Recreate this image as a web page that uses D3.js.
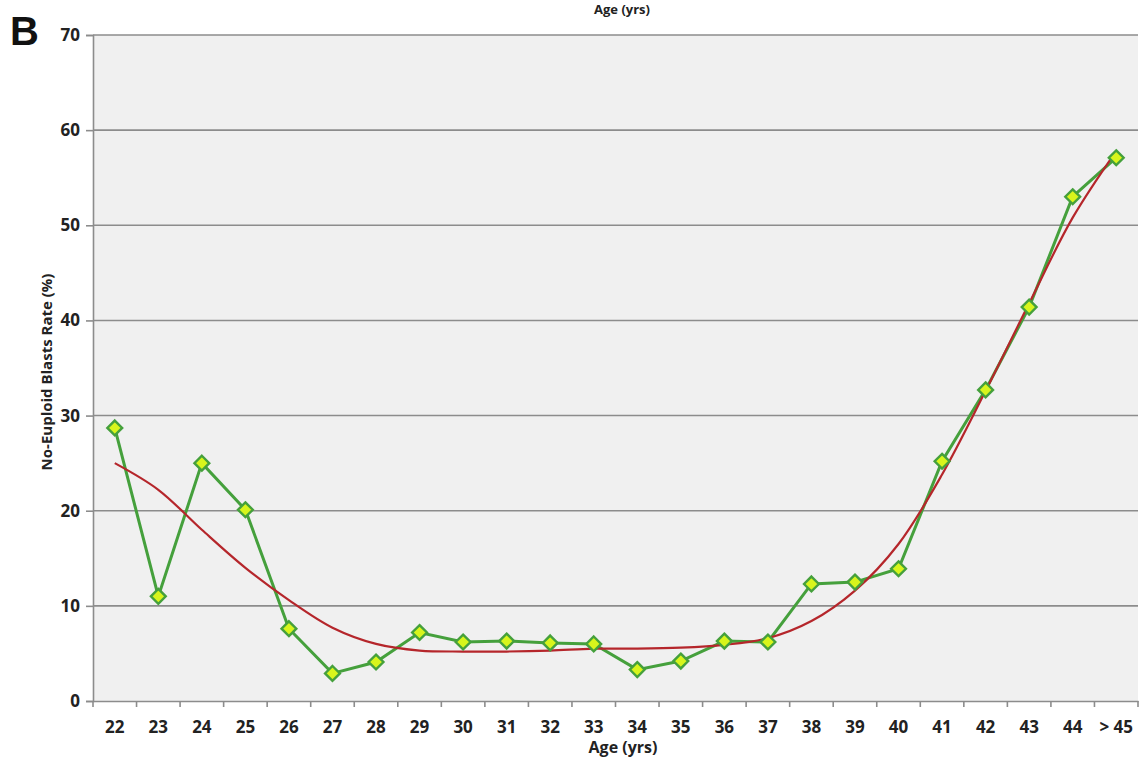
<!DOCTYPE html>
<html><head><meta charset="utf-8">
<script src="https://cdn.jsdelivr.net/npm/d3@7"></script>
<style>body{margin:0;background:#fff;} svg{display:block;}</style>
</head><body>
<svg id="c" width="1144" height="767"></svg>
<script>
const categories = ["22","23","24","25","26","27","28","29","30","31","32","33","34","35","36","37","38","39","40","41","42","43","44","> 45"];
const observed = [28.7,11.0,25.0,20.1,7.6,2.9,4.1,7.2,6.2,6.3,6.1,6.0,3.3,4.2,6.3,6.2,12.3,12.5,13.9,25.2,32.7,41.4,53.0,57.1];
const trend = [25.0,22.2,18.0,14.0,10.6,7.7,6.0,5.3,5.2,5.2,5.3,5.5,5.5,5.6,5.9,6.6,8.4,11.6,16.5,23.8,32.6,41.8,50.8,57.8];
const yTicks = [0,10,20,30,40,50,60,70];

(function(){
const svg = d3.select("#c");
const pL = 93, pR = 1138, pT = 35, pB = 701;
const x = d3.scaleBand().domain(categories).range([pL, pR]).padding(0);
const y = d3.scaleLinear().domain([0,70]).range([pB, pT]);
const FONT = "'Open Sans', 'DejaVu Sans', sans-serif";

svg.append("rect").attr("x", pL).attr("y", pT).attr("width", pR-pL).attr("height", pB-pT).attr("fill", "#f0f0f0");

svg.append("g").selectAll("line").data(yTicks.filter(d=>d>0)).join("line")
  .attr("x1", pL).attr("x2", pR).attr("y1", d=>y(d)).attr("y2", d=>y(d))
  .attr("stroke", "#8c8c8c").attr("stroke-width", 1.6);

const ya = svg.append("g").attr("transform", `translate(${pL},0)`)
  .call(d3.axisLeft(y).tickValues(yTicks).tickSize(7).tickPadding(6));
ya.select(".domain").attr("stroke", "#8c8c8c").attr("stroke-width", 1.6);
ya.selectAll(".tick line").attr("stroke", "#8c8c8c").attr("stroke-width", 1.6);
ya.selectAll("text").attr("font-family", FONT).attr("font-weight", "bold").attr("font-size", 17).attr("fill", "#222");

const xa = svg.append("g").attr("transform", `translate(0,${pB})`)
  .call(d3.axisBottom(x).tickSize(0).tickPadding(20));
xa.select(".domain").attr("stroke", "#8c8c8c").attr("stroke-width", 1.6);
xa.selectAll("text").attr("font-family", FONT).attr("font-weight", "bold").attr("font-size", 17).attr("fill", "#222");
const bounds = categories.map(c => x(c)).concat([pR]);
svg.append("g").selectAll("line").data(bounds).join("line")
  .attr("x1", d=>d).attr("x2", d=>d).attr("y1", pB).attr("y2", pB+6)
  .attr("stroke", "#8c8c8c").attr("stroke-width", 1.6);

const cx = d => x(d) + x.bandwidth()/2;

svg.append("path").datum(observed)
  .attr("d", d3.line().x((d,i)=>cx(categories[i])).y(d=>y(d)))
  .attr("fill","none").attr("stroke","#45a03c").attr("stroke-width",3);

svg.append("path").datum(trend)
  .attr("d", d3.line().curve(d3.curveCatmullRom.alpha(0.5)).x((d,i)=>cx(categories[i])).y(d=>y(d)))
  .attr("fill","none").attr("stroke","#b5262b").attr("stroke-width",2.2);

svg.append("g").selectAll("path").data(observed).join("path")
  .attr("transform", (d,i)=>`translate(${cx(categories[i])},${y(d)})`)
  .attr("d", d3.symbol().type(d3.symbolDiamond2).size(140))
  .attr("fill", "#d8f51c").attr("stroke", "#45a03c").attr("stroke-width", 2.4);

svg.append("text").attr("x", 623).attr("y", 753).attr("text-anchor","middle")
  .attr("font-family", FONT).attr("font-weight","bold").attr("font-size",16).attr("fill","#222").text("Age (yrs)");
svg.append("text").attr("x", 622).attr("y", 14).attr("text-anchor","middle")
  .attr("font-family", FONT).attr("font-weight","bold").attr("font-size",13).attr("fill","#222").text("Age (yrs)");
svg.append("text").attr("transform","translate(52,372) rotate(-90)").attr("text-anchor","middle")
  .attr("font-family", FONT).attr("font-weight","bold").attr("font-size",15).attr("fill","#222").text("No-Euploid Blasts Rate (%)");
svg.append("text").attr("x", 10).attr("y", 45)
  .attr("font-family", "'Liberation Sans', Arial, sans-serif").attr("font-weight","bold").attr("font-size",40).attr("fill","#111").text("B");
})();
</script>
</body></html>
